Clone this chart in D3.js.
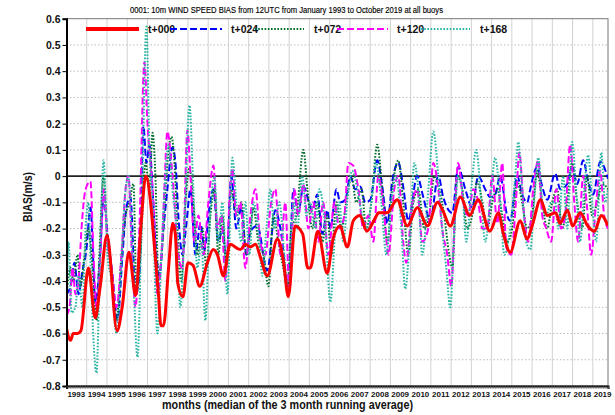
<!DOCTYPE html>
<html><head><meta charset="utf-8">
<script src="https://cdn.jsdelivr.net/npm/d3@7"></script>
<style>
html,body{margin:0;padding:0;background:#fff;}
svg{display:block;font-family:"Liberation Sans",Arial,Helvetica,sans-serif;}
</style></head>
<body><svg id="c" width="615" height="415"></svg>
<script>
// ---- data: [month index since Jan 1993, bias (m/s)] ----
const yearLabels = ["1993","1994","1995","1996","1997","1998","1999","2000","2001","2002","2003","2004","2005","2006","2007","2008","2009","2010","2011","2012","2013","2014","2015","2016","2017","2018","2019"];
const yTickValues = [0.6,0.5,0.4,0.3,0.2,0.1,0,-0.1,-0.2,-0.3,-0.4,-0.5,-0.6,-0.7,-0.8];
const seriesNames = ["t+000","t+024","t+072","t+120","t+168"];

const t000 = [[0,-0.58],[2.4,-0.626],[4,-0.60],[6.5,-0.60],[8.5,-0.59],[13,-0.35],[17,-0.54],[20,-0.42],[24,-0.225],[30,-0.59],[33,-0.5],[37,-0.29],[41,-0.455],[44,-0.2],[47,0.0],[50,-0.11],[51.5,-0.22],[54.5,-0.45],[56,-0.57],[57.5,-0.57],[60.5,-0.35],[63,-0.18],[64.5,-0.22],[66,-0.41],[69,-0.46],[72,-0.33],[75,-0.34],[79,-0.42],[83.5,-0.33],[87,-0.28],[89.5,-0.30],[93,-0.38],[97,-0.26],[103,-0.28],[106,-0.26],[109,-0.27],[112,-0.26],[115,-0.31],[119,-0.38],[125,-0.24],[128.5,-0.32],[131.5,-0.46],[135.5,-0.19],[140,-0.22],[143,-0.35],[144.5,-0.35],[149,-0.21],[154.5,-0.37],[158,-0.24],[162,-0.19],[166.5,-0.27],[170,-0.17],[174,-0.15],[178,-0.21],[183,-0.16],[185,-0.14],[190,-0.14],[196,-0.09],[202,-0.19],[208,-0.12],[214,-0.19],[220,-0.10],[223,-0.13],[227.5,-0.19],[233.5,-0.08],[239,-0.15],[244,-0.09],[251,-0.21],[256,-0.14],[259,-0.22],[263,-0.29],[269,-0.17],[273,-0.24],[276,-0.19],[281,-0.09],[285,-0.15],[290,-0.14],[292.5,-0.18],[297,-0.13],[300,-0.19],[304.5,-0.14],[309,-0.19],[313,-0.21],[317,-0.15],[321,-0.19]];

const t024 = [[0,-0.45],[2.4,-0.42],[4.7,-0.33],[7.1,-0.45],[9.5,-0.36],[11.8,-0.28],[14.2,-0.12],[17.2,-0.48],[20.1,-0.28],[22,-0.08],[24.3,-0.22],[27.3,-0.38],[30.2,-0.55],[33.2,-0.3],[35.5,-0.12],[37.9,-0.08],[40.9,-0.45],[43.2,-0.38],[45.6,0.19],[47.4,0.05],[49.2,0.12],[51,-0.05],[53.3,-0.3],[55.1,-0.38],[57.5,-0.2],[59.8,-0.05],[62.8,0.11],[64.6,0.05],[66.3,-0.15],[68.7,-0.3],[71.1,-0.18],[73.5,-0.05],[76.4,-0.3],[79.4,-0.18],[81.8,-0.28],[84.7,-0.12],[87.1,-0.05],[90,-0.25],[92.4,-0.2],[94.8,-0.33],[97.7,0.0],[100.7,-0.2],[103.7,-0.12],[106.6,-0.3],[109,-0.21],[113.1,-0.19],[119,-0.36],[123.8,-0.13],[126.8,-0.2],[131.5,-0.42],[134.5,-0.05],[137.4,-0.14],[140.4,-0.04],[145.7,-0.13],[148.7,-0.07],[151.7,-0.22],[154.6,-0.13],[156.4,-0.2],[160,-0.05],[162.3,-0.10],[165.3,-0.09],[168.2,0.0],[171.2,-0.05],[174.2,-0.04],[177.1,-0.10],[180.1,-0.09],[184.2,0.06],[187.2,-0.04],[190.2,-0.18],[193.1,-0.02],[196.7,0.05],[199.6,-0.04],[202.6,-0.17],[207.9,0.0],[211.5,-0.08],[215.6,-0.17],[220.4,0.0],[223.3,-0.08],[228.7,-0.14],[232.2,0.035],[236.4,-0.05],[240.5,-0.12],[244.1,0.0],[248.2,-0.05],[251.2,-0.08],[254.1,-0.07],[257.1,0.0],[261.2,-0.15],[263,-0.17],[267.2,0.0],[270.1,-0.07],[273.1,-0.10],[274.9,-0.05],[279,0.035],[282,-0.04],[285,-0.09],[289.7,0.01],[292.7,-0.05],[296.8,-0.03],[299.8,0.035],[302.7,-0.03],[306.3,0.06],[309.2,-0.02],[312.2,-0.07],[316.4,0.055],[321,-0.01]];

const t072 = [[0,-0.45],[2.4,-0.35],[4.1,-0.4],[6.5,-0.3],[8.3,-0.42],[10.7,-0.3],[13,-0.2],[15.4,-0.35],[17.8,-0.55],[19.5,-0.3],[22,0.0],[24.3,-0.25],[26.7,-0.35],[29.6,-0.55],[32.6,-0.3],[35,-0.15],[37.3,-0.1],[39.7,-0.03],[41.5,-0.45],[43.8,-0.3],[46.8,0.05],[49.2,-0.05],[51,0.165],[52.7,0.0],[54.5,-0.4],[56.9,-0.25],[59.2,0.0],[62.2,0.15],[64,0.05],[65.8,-0.2],[68.1,-0.4],[70.5,-0.1],[72.9,0.03],[75.2,-0.1],[77.6,-0.3],[80.6,-0.2],[82.9,-0.35],[85.3,-0.15],[87.7,-0.05],[90,-0.3],[92.4,-0.15],[94.8,-0.35],[97.7,-0.05],[100.7,-0.15],[103.7,-0.1],[106.6,-0.3],[109,-0.2],[110.8,-0.12],[113.7,-0.25],[116.7,-0.3],[119.7,-0.42],[122.6,-0.15],[125.6,-0.25],[128.5,-0.35],[130.9,-0.42],[133.3,-0.2],[136.3,-0.15],[140.4,0.1],[142.8,-0.05],[145.7,-0.2],[148.7,-0.1],[151.7,-0.25],[154.6,-0.15],[157,-0.3],[160,-0.1],[163,-0.2],[165.9,-0.1],[168.9,0.0],[171.8,-0.1],[174.8,-0.05],[177.7,-0.2],[180.7,-0.1],[184.2,0.12],[187.2,-0.05],[190.2,-0.25],[193.1,-0.05],[196.7,0.06],[199.6,-0.1],[202.6,-0.3],[205.6,-0.1],[208.5,-0.05],[212.1,-0.2],[215,-0.15],[218,0.0],[221,-0.05],[223.9,-0.15],[226.9,-0.3],[228.7,-0.35],[231.6,0.0],[234.6,-0.05],[237.5,-0.2],[240.5,-0.15],[243.5,-0.02],[246.5,-0.1],[249.4,-0.2],[252.4,-0.1],[255.4,-0.05],[258.3,-0.15],[261.2,-0.25],[264.2,-0.2],[267.2,-0.02],[270.1,-0.1],[273.1,-0.2],[276,-0.15],[279,0.02],[282,-0.1],[285,-0.2],[287.9,-0.1],[290.9,-0.05],[293.8,-0.2],[296.8,-0.1],[299.8,0.05],[302.7,-0.1],[305.7,-0.2],[308.6,0.0],[311.6,-0.15],[314.6,-0.1],[317.6,-0.03],[321,-0.05]];

const t120 = [[0,-0.53],[1.8,-0.5],[3.6,-0.35],[5.3,-0.45],[7.1,-0.4],[8.9,-0.2],[11.3,-0.05],[14.2,-0.02],[16,-0.3],[17.8,-0.5],[20.1,-0.3],[22,-0.05],[24.3,-0.25],[26.7,-0.35],[29.6,-0.5],[32.6,-0.3],[35,-0.05],[36.7,0.0],[39.1,-0.35],[40.9,-0.5],[43.2,-0.2],[46.2,0.435],[48,0.2],[49.8,0.05],[51.5,-0.1],[53.9,-0.45],[56.3,-0.3],[58,-0.05],[59.8,0.17],[62.2,0.05],[64,-0.1],[66.3,-0.3],[68.7,-0.35],[71.7,0.175],[73.5,0.0],[75.8,-0.25],[78.2,-0.15],[81.2,-0.3],[84.1,-0.1],[87.1,0.04],[89.5,-0.2],[91.8,-0.15],[94.2,-0.4],[96.6,-0.1],[98.3,0.03],[100.7,-0.15],[103.1,-0.1],[106,-0.35],[109,-0.15],[112,-0.05],[114.9,-0.25],[117.9,-0.3],[120.9,-0.12],[123.8,-0.05],[126.8,-0.3],[129.7,-0.1],[132.1,-0.44],[135.1,-0.05],[137.4,-0.15],[140.4,-0.03],[143.4,-0.2],[146.3,-0.1],[149.3,-0.25],[152.2,-0.1],[155.2,-0.3],[158.8,-0.1],[161.7,-0.2],[164.7,-0.15],[167.1,0.05],[170,0.04],[173,-0.05],[175.9,-0.2],[178.9,-0.15],[181.9,-0.25],[184.8,0.0],[188.4,-0.15],[190.8,-0.3],[194.3,-0.05],[196.7,0.0],[199.6,-0.25],[201.4,-0.33],[205,-0.1],[207.9,-0.05],[210.9,-0.25],[214.5,-0.2],[217.4,0.05],[220.4,-0.05],[222.7,-0.2],[225.7,-0.3],[228.1,-0.42],[230.5,-0.1],[232.2,0.05],[235.2,-0.1],[238.1,-0.15],[241.1,-0.05],[244.1,-0.1],[246.5,-0.2],[249.4,-0.2],[252.4,0.0],[255.4,-0.18],[258.3,0.05],[260.7,-0.27],[263.6,-0.3],[266.6,-0.08],[268.4,0.09],[271.3,-0.15],[273.7,-0.25],[276.7,-0.05],[279.7,0.06],[282,-0.15],[284.4,-0.2],[287.3,-0.25],[290.3,-0.05],[293.2,-0.2],[295.6,-0.15],[298.6,0.12],[301,-0.1],[303.3,-0.25],[306.3,0.0],[308.6,-0.12],[311,-0.3],[314,-0.1],[316.4,0.02],[318.7,-0.15],[321,-0.2]];

const t168 = [[0,-0.5],[1.2,-0.25],[3,-0.52],[5.3,-0.5],[7.1,-0.38],[9.5,-0.5],[11.3,-0.2],[13,-0.1],[14.8,-0.45],[17.8,-0.75],[19.5,-0.4],[22,0.06],[24.3,-0.3],[26.7,-0.4],[29.6,-0.6],[32,-0.4],[34.4,-0.1],[36.7,0.0],[39.1,-0.3],[42.1,-0.69],[44.4,-0.2],[47.4,0.57],[49.2,0.1],[51,-0.1],[53.9,-0.6],[56.3,-0.3],[58.6,0.0],[60.4,0.12],[62.8,-0.05],[65.2,-0.2],[67.5,-0.5],[69.9,-0.2],[72.9,0.27],[75.2,-0.05],[77.6,-0.35],[80,-0.25],[82.3,-0.55],[84.7,-0.2],[87.7,0.0],[90,-0.25],[92.4,-0.1],[95.4,-0.45],[98.3,0.07],[100.7,-0.1],[103.7,-0.25],[106,-0.1],[108.4,-0.3],[110.8,-0.1],[113.7,-0.2],[116.1,-0.38],[118.5,-0.2],[120.9,-0.05],[123.2,-0.2],[126.2,-0.1],[129.1,-0.3],[131.5,-0.45],[134.5,-0.1],[136.8,-0.2],[139.8,0.0],[142.2,-0.15],[144.5,-0.1],[147.5,-0.2],[149.9,-0.05],[153.4,-0.2],[156.4,-0.48],[159.4,-0.2],[161.7,-0.1],[164.1,-0.25],[167.1,-0.05],[169.4,0.02],[172.4,-0.05],[175.3,-0.15],[178.3,-0.2],[180.7,-0.1],[183.6,0.05],[186.6,-0.1],[189.6,-0.3],[192.5,-0.1],[195.5,0.0],[198.5,-0.2],[200.8,-0.43],[203.8,-0.2],[206.2,0.05],[208.5,-0.05],[210.9,-0.3],[214.5,-0.05],[217.4,0.17],[220.4,0.0],[222.7,-0.2],[225.1,-0.35],[227.5,-0.5],[229.9,-0.2],[232.2,0.0],[234.6,-0.05],[237,-0.25],[239.9,-0.05],[242.9,0.1],[245.9,-0.1],[248.2,-0.25],[251.2,-0.1],[254.1,0.07],[257.1,-0.1],[259.5,-0.3],[263,-0.2],[266,0.0],[267.8,0.13],[270.1,-0.05],[272.5,-0.25],[274.9,-0.28],[277.2,-0.1],[279.7,0.07],[282,-0.1],[284.4,-0.15],[287.3,-0.1],[289.7,-0.1],[291.5,-0.2],[294.4,0.0],[296.8,-0.2],[299.8,0.13],[302.1,-0.05],[304.5,-0.25],[306.9,-0.05],[309.2,0.08],[311.6,-0.1],[314,-0.25],[317,0.09],[319.3,-0.1],[321,-0.05]];

const seriesData = [t000, t024, t072, t120, t168];
const seriesColors = ["#ff0000","#0000ff","#006d2c","#ff00ff","#2ab5a5"];
const seriesWidths = [3, 2, 2, 2, 2];
const seriesDash = [null, "7,3", "1.6,1.6", "7,3", "1.6,1.6"];

// ---- chart ----
const svg = d3.select("#c");
const L = 66.5, R = 608, T = 18.7, B = 386;
const x = d3.scaleLinear().domain([0, 321]).range([L, R]);
const y = d3.scaleLinear().domain([-0.8, 0.6]).range([B, T]);

svg.append("rect").attr("width",615).attr("height",415).attr("fill","#fff");

// horizontal grid
svg.append("g").selectAll("line").data(yTickValues.filter(v => v !== 0 && v > -0.8 && v < 0.6))
  .join("line").attr("x1",L).attr("x2",R).attr("y1",d=>y(d)).attr("y2",d=>y(d))
  .attr("stroke","#bdbdbd").attr("stroke-width",1).attr("stroke-dasharray","1.5,2");
// vertical grid (year boundaries)
svg.append("g").selectAll("line").data(d3.range(1, yearLabels.length).map(k => k*12))
  .join("line").attr("x1",d=>x(d)).attr("x2",d=>x(d)).attr("y1",T).attr("y2",B)
  .attr("stroke","#d2d2d2").attr("stroke-width",1);

// zero line
svg.append("line").attr("x1",L).attr("x2",R).attr("y1",y(0)).attr("y2",y(0))
  .attr("stroke","#222").attr("stroke-width",1.6);

// frame
svg.append("rect").attr("x",L).attr("y",T).attr("width",R-L).attr("height",B-T)
  .attr("fill","none").attr("stroke","#777").attr("stroke-width",1);

// series
const line = d3.line().x(d=>x(d[0])).y(d=>y(d[1])).curve(d3.curveMonotoneX);
svg.append("clipPath").attr("id","pc").append("rect")
  .attr("x",L).attr("y",T).attr("width",R-L).attr("height",B-T);
const drawOrder = [1,2,3,4,0];
const gS = svg.append("g").attr("clip-path","url(#pc)");
drawOrder.forEach(i => {
  gS.append("path").datum(seriesData[i]).attr("d",line)
    .attr("fill","none").attr("stroke",seriesColors[i])
    .attr("stroke-width",seriesWidths[i])
    .attr("stroke-dasharray",seriesDash[i])
    .attr("stroke-linejoin","round");
});

// axes
const yAxis = d3.axisLeft(y).tickValues(yTickValues).tickSize(4).tickPadding(2)
  .tickFormat(d => d === 0 ? "0" : String(Math.round(d*10)/10));
const gy = svg.append("g").attr("transform",`translate(${L},0)`).call(yAxis);
gy.select(".domain").attr("stroke","#000").attr("stroke-width",2);
gy.selectAll("text").attr("font-size",10.5).attr("font-weight","bold").attr("fill","#111")
  .attr("font-family","Liberation Sans, Arial, sans-serif");

const xMinor = d3.axisBottom(x).tickValues(d3.range(0, 322)).tickSize(3).tickFormat("");
const gx = svg.append("g").attr("transform",`translate(0,${B})`).call(xMinor);
gx.select(".domain").attr("stroke","#000").attr("stroke-width",2);
gx.selectAll(".tick line").attr("stroke","#666").attr("stroke-width",0.6);

const xLab = d3.axisBottom(x).tickValues(yearLabels.map((_,k)=>k*12+5.5)).tickSize(0).tickPadding(5)
  .tickFormat((d,i) => yearLabels[i]);
const gxl = svg.append("g").attr("transform",`translate(0,${B})`).call(xLab);
gxl.select(".domain").remove();
gxl.selectAll("text").attr("font-size",8).attr("font-weight","bold").attr("fill","#111")
  .attr("font-family","Liberation Sans, Arial, sans-serif").attr("dy","0.71em");

// titles
svg.append("text").attr("x",286.5).attr("y",13).attr("text-anchor","middle")
  .attr("font-size",8.5).attr("fill","#000").attr("stroke","#000").attr("stroke-width",0.15)
  .attr("textLength",313).attr("lengthAdjust","spacingAndGlyphs")
  .text("0001: 10m WIND SPEED BIAS from 12UTC from January 1993 to October 2019 at all buoys");
svg.append("text").attr("x",287.5).attr("y",409).attr("text-anchor","middle")
  .attr("font-size",12.5).attr("font-weight","bold").attr("fill","#111")
  .attr("textLength",251).attr("lengthAdjust","spacingAndGlyphs")
  .text("months (median of the 3 month running average)");
svg.append("text").attr("transform","translate(32,197) rotate(-90)").attr("text-anchor","middle")
  .attr("font-size",13).attr("font-weight","bold").attr("fill","#111")
  .attr("textLength",50).attr("lengthAdjust","spacingAndGlyphs")
  .text("BIAS(m/s)");

// legend
const legLines = [[86,139],[170,222],[255,304],[337,388],[421,470]];
const legText = [148,231,314,397,480];
const gL = svg.append("g");
seriesNames.forEach((n,i) => {
  gL.append("line").attr("x1",legLines[i][0]).attr("x2",legLines[i][1]).attr("y1",29).attr("y2",29)
    .attr("stroke",seriesColors[i]).attr("stroke-width",i===0?4:2.2)
    .attr("stroke-dasharray",seriesDash[i]);
  gL.append("text").attr("x",legText[i]).attr("y",33).attr("font-size",10.5).attr("font-weight","bold")
    .attr("fill","#111").text(n);
});
</script></body></html>
